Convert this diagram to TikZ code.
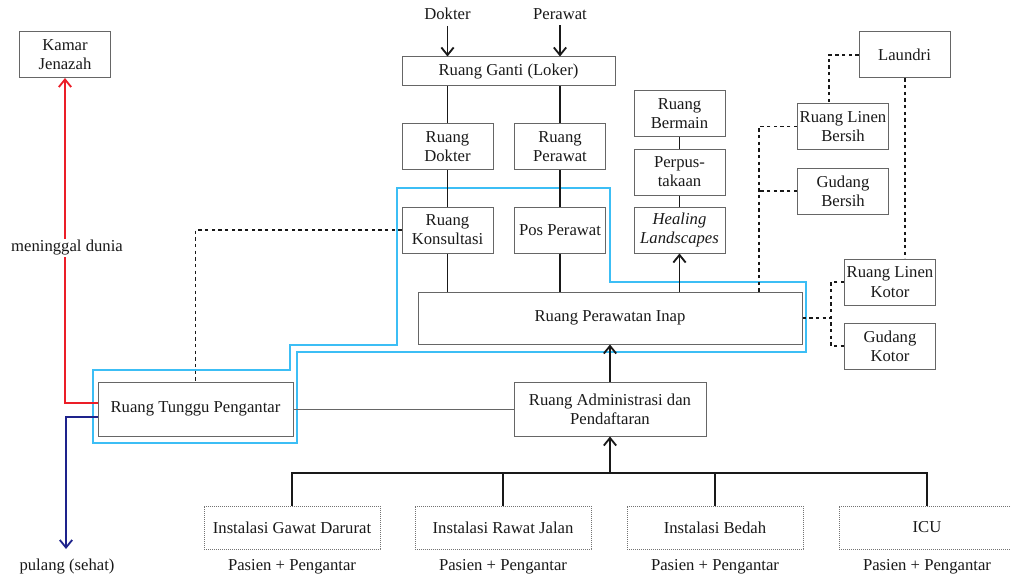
\documentclass[tikz,border=0pt]{standalone}
\usepackage{fontspec}
\setmainfont{Liberation Serif}
\usetikzlibrary{positioning, arrows.meta}

\definecolor{zonecyan}{RGB}{60,190,245}
\definecolor{deathred}{RGB}{235,30,40}
\definecolor{homeblue}{RGB}{30,35,140}

\begin{document}
\begin{tikzpicture}[
	x=0.6pt, y=-0.6pt, on grid,
	>={Straight Barb[length=1.6mm, width=2.6mm]},
	every node/.style={font=\fontsize{10}{11.5}\selectfont, text=black!90},
	room/.style={draw=black!60, line width=0.6pt, inner sep=1pt, align=center},
	small/.style={room, minimum width=54.6pt, minimum height=27.6pt},
	unit/.style={draw=black!55, dash pattern=on 0.6pt off 0.6pt, line width=0.5pt,
		minimum width=105.6pt, minimum height=25.8pt, inner sep=1pt},
	link/.style={line width=1.1pt, black!90},
	dotline/.style={line width=1.1pt, dash pattern=on 2pt off 2pt, black!90},
	thinline/.style={line width=0.55pt, black!60}
	]
	\useasboundingbox (0,0) rectangle (1011,581);

	% zona pengantar
	\draw[zonecyan, line width=0.8pt] (93,370) -- (290,370) -- (290,345) -- (397,345)
		-- (397,188) -- (610,188) -- (610,282) -- (806,282) -- (806,352)
		-- (297,352) -- (297,443) -- (93,443) -- cycle;

	% ruang utama
	\node[small] (jenazah) at (65,54.5) {Kamar\\Jenazah};
	\node[room, minimum width=117pt, minimum height=32.4pt] (tunggu) at (195.5,409) {Ruang Tunggu Pengantar};
	\node[room, minimum width=230.4pt, minimum height=31.2pt] (inap) at (610,318) {Ruang Perawatan Inap};
	\node[room, minimum width=115.2pt, minimum height=32.4pt] (admin) at (610,409) {Ruang Administrasi dan\\Pendaftaran};
	\node[small] (konsultasi) at (447.5,230) {Ruang\\Konsultasi};
	\node[small] (pos) at (560,230) {Pos Perawat};
	\node[small] (healing) at (679.5,230) {\itshape Healing\\\itshape Landscapes};
	\node[small] (pustaka) [above=34.8pt of healing] {Perpus-\\takaan};
	\node[small] (bermain) [above=35.1pt of pustaka] {Ruang\\Bermain};
	\node[small] (rdokter) [above=50.1pt of konsultasi] {Ruang\\Dokter};
	\node[small] (rperawat) [above=50.1pt of pos] {Ruang\\Perawat};
	\node[room, minimum width=127.8pt, minimum height=17.4pt] (ganti) at (508.5,71.5) {Ruang Ganti (Loker)};
	\node (dokter) at (447.5,14) {Dokter};
	\node (perawat) at (560,14) {Perawat};

	% linen
	\node[small] (laundri) at (904.5,55) {Laundri};
	\node[small] (linenbersih) at (843,126.5) {Ruang Linen\\Bersih};
	\node[small] (gudangbersih) [below=38.7pt of linenbersih] {Gudang\\Bersih};
	\node[small] (linenkotor) at (890,282) {Ruang Linen\\Kotor};
	\node[small] (gudangkotor) [below=38.4pt of linenkotor] {Gudang\\Kotor};

	% instalasi
	\node[unit] (igd) at (292,527.5) {Instalasi Gawat Darurat};
	\node[unit] (irj) [right=126.6pt of igd] {Instalasi Rawat Jalan};
	\node[unit] (bedah) [right=127.2pt of irj] {Instalasi Bedah};
	\node[unit] (icu) [right=127.2pt of bedah] {ICU};
	\foreach \u/\n in {igd/1, irj/2, bedah/3, icu/4}
		\node (pasien\n) at (\u |- 0,567) {Pasien + Pengantar};

	\coordinate (bus) at (610,473);
	\coordinate (cl) at (759,0);
	\coordinate (dl) at (831,0);
	\coordinate (ll) at (829,0);
	\coordinate (lr) at (905,0);
	\coordinate (pulangend) at (66,549);

	% alur dokter dan perawat
	\draw[link, ->] (dokter) -- (dokter |- ganti.north);
	\draw[link, ->] (perawat) -- (perawat |- ganti.north);
	\draw[link] (ganti.south -| rdokter) -- (rdokter);
	\draw[link] (ganti.south -| rperawat) -- (rperawat);
	\draw[link] (rdokter) -- (konsultasi);
	\draw[link] (rperawat) -- (pos);
	\draw[link] (konsultasi) -- (konsultasi |- inap.north);
	\draw[link] (pos) -- (pos |- inap.north);
	\draw[link] (bermain) -- (pustaka);
	\draw[link] (pustaka) -- (healing);
	\draw[link, ->] (inap.north -| healing) -- (healing);
	\draw[link, ->] (admin) -- (inap);

	% alur pasien
	\draw[link] (igd) |- (bus) -| (icu);
	\draw[link] (irj) -- (irj |- bus);
	\draw[link] (bedah) -- (bedah |- bus);
	\draw[link, ->] (bus) -- (admin);
	\draw[thinline] (tunggu) -- (admin);
	\draw[dotline] (konsultasi) -| (tunggu);

	% keluar
	\draw[deathred, line width=1.1pt, ->] ([yshift=3.6pt]tunggu.west) -| (jenazah);
	\draw[homeblue, line width=1.1pt, ->] ([yshift=-4.8pt]tunggu.west) -| (pulangend);
	\node[fill=white, inner sep=1pt] (meninggal) at (67,248) {meninggal dunia};
	\node (pulang) at (67,567) {pulang (sehat)};

	% linen bersih dan kotor
	\draw[dotline] (laundri) -| (linenbersih.north -| ll);
	\draw[dotline] (laundri.south -| lr) -- (linenkotor.north -| lr);
	\draw[dotline] (linenbersih) -| (inap.north -| cl);
	\draw[dotline] (gudangbersih) -- (gudangbersih -| cl);
	\draw[dotline] (inap) -- (inap -| dl);
	\draw[dotline] (linenkotor) -| (dl |- gudangkotor) -- (gudangkotor);
\end{tikzpicture}
\end{document}
